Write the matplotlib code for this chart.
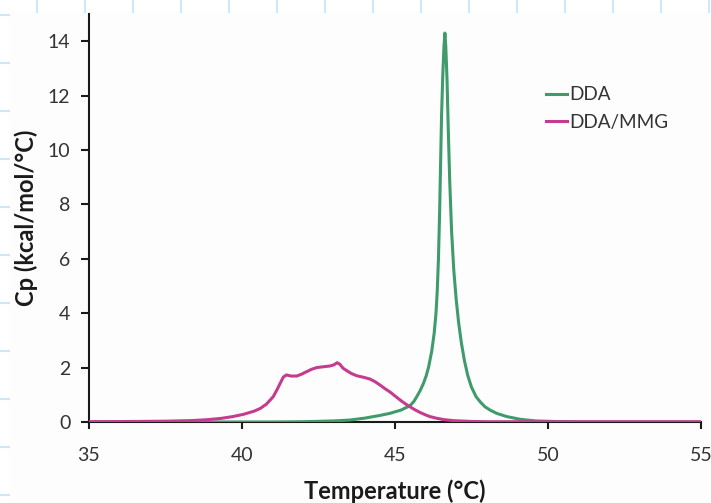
import matplotlib
matplotlib.use('Agg')
import matplotlib.pyplot as plt
from matplotlib.lines import Line2D
from matplotlib.patches import Rectangle

plt.rcParams['font.family'] = ['Lato', 'DejaVu Sans']

# DSC scans: excess heat capacity vs temperature
dda_temp = [35.0, 38.0, 41.0, 42.0, 43.0, 43.5, 44.0, 44.5, 44.84, 45.2,
            45.49, 45.62, 45.71, 45.82, 45.93, 46.02, 46.1, 46.2, 46.28,
            46.34, 46.38, 46.42, 46.46, 46.49, 46.52, 46.56, 46.6, 46.63,
            46.66, 46.70, 46.74, 46.79, 46.85, 46.92, 47.0, 47.08, 47.17,
            47.27, 47.38, 47.5, 47.65, 47.8, 47.94, 48.12, 48.32,
            48.65, 49.09, 49.6, 50.2, 51.0, 55.0]
dda_cp = [0.0, 0.0, 0.0, 0.01, 0.04, 0.07, 0.14, 0.24, 0.32, 0.44,
          0.6, 0.76, 0.93, 1.15, 1.42, 1.7, 2.03, 2.6, 3.26,
          4.0, 4.8, 6.0, 7.8, 9.5, 11.2, 12.7, 13.8, 14.3,
          13.8, 12.6, 10.8, 8.8, 7.0, 5.6, 4.5, 3.65, 2.9,
          2.25, 1.7, 1.28, 0.93, 0.72, 0.56, 0.43, 0.32,
          0.2, 0.1, 0.04, 0.02, 0.0, 0.0]

mmg_temp = [35.0, 36.5, 37.5, 38.3, 38.8, 39.3, 39.7, 40.04, 40.4, 40.6,
            40.8, 41.02, 41.15, 41.26, 41.35, 41.45, 41.6, 41.79, 41.95,
            42.11, 42.28, 42.44, 42.65, 42.88, 43.0, 43.11, 43.2, 43.3,
            43.42, 43.58, 43.75, 43.95, 44.18, 44.35, 44.51, 44.68, 44.84,
            45.02, 45.2, 45.35, 45.49, 45.65, 45.82, 46.0, 46.14, 46.35,
            46.58, 46.9, 47.5, 48.0, 55.0]
mmg_cp = [0.01, 0.02, 0.03, 0.05, 0.08, 0.13, 0.2, 0.28, 0.4, 0.5,
          0.66, 0.93, 1.2, 1.45, 1.65, 1.73, 1.69, 1.69, 1.76,
          1.85, 1.94, 2.0, 2.03, 2.06, 2.1, 2.18, 2.12, 1.98,
          1.89, 1.78, 1.7, 1.65, 1.58, 1.48, 1.36, 1.22, 1.1,
          0.94, 0.78, 0.66, 0.56, 0.45, 0.35, 0.26, 0.2, 0.14,
          0.09, 0.05, 0.02, 0.01, 0.01]

x_ticks = [35, 40, 45, 50, 55]
y_ticks = [0, 2, 4, 6, 8, 10, 12, 14]

green = '#3f9b6b'
pink = '#c43c8f'

W, H = 711, 503
fig = plt.figure(figsize=(W / 100, H / 100), dpi=100)
fig.patch.set_facecolor('white')

# graph-paper lines peeking out around the white panel
for px in range(37, W, 48):
    fig.add_artist(Line2D([px / W, px / W], [1, 1 - 12 / H],
                          color='#cde8f8', lw=1.5, transform=fig.transFigure))
for py in range(15, H, 48):
    fig.add_artist(Line2D([0, 9 / W], [1 - py / H, 1 - py / H],
                          color='#cde8f8', lw=1.5, transform=fig.transFigure))
fig.add_artist(Rectangle((9 / W, 0), 1, 1 - 12 / H, facecolor='#fdfdfd',
                         edgecolor='none', transform=fig.transFigure, zorder=-1))

ax = fig.add_axes([89 / W, 81 / H, 612 / W, 408 / H])
ax.patch.set_alpha(0)

ax.plot(dda_temp, dda_cp, color=green, lw=2.2, label='DDA', zorder=3,
        solid_joinstyle='round')
ax.plot(mmg_temp, mmg_cp, color=pink, lw=2.2, label='DDA/MMG', zorder=3,
        solid_joinstyle='round')

ax.set_xlim(35, 55)
ax.set_ylim(0, 15)
ax.set_xticks(x_ticks)
ax.set_yticks(y_ticks)

for s in ['top', 'right']:
    ax.spines[s].set_visible(False)
for s in ['left', 'bottom']:
    ax.spines[s].set_linewidth(1.5)
    ax.spines[s].set_color('#1a1a1a')

ax.tick_params(axis='x', direction='out', length=5, width=1.5, pad=13,
               labelsize=14, colors='#1a1a1a', labelcolor='#333333')
ax.tick_params(axis='y', direction='out', length=5.5, width=1.5, pad=8,
               labelsize=14, colors='#1a1a1a', labelcolor='#333333')

ax.set_xlabel('Temperature (°C)', fontsize=17, fontweight='bold',
              color='#1a1a1a', labelpad=11)
ax.set_ylabel('Cp (kcal/mol/°C)', fontsize=17, fontweight='bold',
              color='#1a1a1a', labelpad=7)

ax.legend(loc='center left', bbox_to_anchor=(0.735, 0.768), frameon=False,
          fontsize=13.6, handlelength=1.1, handletextpad=0.1,
          labelspacing=0.55, borderaxespad=0, labelcolor='#333333')

fig.savefig('out.png', dpi=100, facecolor=fig.get_facecolor())
